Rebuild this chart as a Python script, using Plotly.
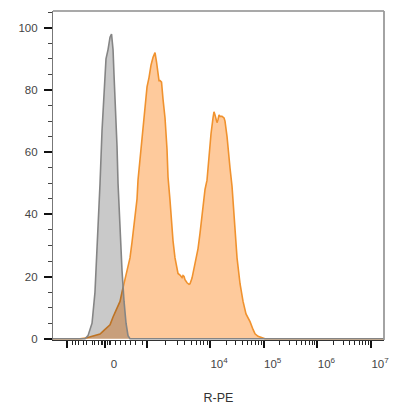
import plotly.graph_objects as go

# x positions are in display units of the biexponential R-PE scale
# (value n corresponds to 10^n for n >= 4)
control_x = [1.076, 1.672, 1.728, 1.803, 1.858, 1.914, 1.952, 1.989, 2.026, 2.063, 2.101, 2.138,
             2.166, 2.194, 2.212, 2.250, 2.268, 2.287, 2.324, 2.361, 2.399, 2.436, 2.473, 2.510, 7.24]
control_y = [0, 0, 1, 5, 15, 35, 50, 67, 80, 90, 93, 97,
             98, 93, 85, 72, 62, 50, 35, 22, 12, 5, 1, 0, 0]

stained_x = [1.076, 1.579, 1.709, 1.858, 1.952, 2.045, 2.138, 2.194, 2.268, 2.324, 2.361, 2.417,
             2.454, 2.510, 2.547, 2.585, 2.641, 2.659, 2.696, 2.734, 2.771, 2.790, 2.808, 2.827,
             2.864, 2.901, 2.939, 2.976, 3.004, 3.032, 3.050, 3.069, 3.097, 3.125, 3.162, 3.199,
             3.218, 3.255, 3.292, 3.311, 3.348, 3.404, 3.441, 3.479, 3.497, 3.516, 3.534, 3.572,
             3.609, 3.628, 3.665, 3.683, 3.721, 3.777, 3.814, 3.870, 3.907, 3.944, 3.963, 4.000,
             4.019, 4.056, 4.074, 4.093, 4.112, 4.130, 4.149, 4.168, 4.186, 4.223, 4.261, 4.279,
             4.317, 4.335, 4.372, 4.410, 4.447, 4.466, 4.503, 4.559, 4.615, 4.670, 4.745, 4.801,
             4.838, 4.894, 4.968, 5.024, 7.24]
stained_y = [0, 0, 0.3, 1, 1.5, 3, 4.5, 7, 10, 12, 15, 19,
             22, 26, 31, 37, 45, 51, 58, 65, 71, 75, 79, 81,
             84, 88, 90.5, 92, 89, 86, 83, 83, 82.5, 77, 71, 61,
             52, 44.5, 35, 31.5, 26, 21, 20.5, 19.7, 20.3, 20, 19, 18,
             17.5, 17.7, 19.5, 21, 24, 29, 34, 42, 48, 51, 55, 62,
             66, 71, 73, 72, 70, 69.5, 70.5, 72, 71.5, 71.5, 71, 70,
             65, 61, 55, 49, 39, 34, 26, 17.7, 12, 8, 5.5, 3,
             1.6, 0.8, 0.2, 0, 0]

x_label_ticks = [2.045, 4, 5, 6, 7]
x_labels = ["0", "10<sup>4</sup>", "10<sup>5</sup>", "10<sup>6</sup>", "10<sup>7</sup>"]
x_unlabelled_major = [1.337, 2.827]
x_minor_ticks = [1.430, 1.486, 1.542, 1.635, 1.709, 1.803, 1.858, 1.914,
                 1.970, 2.007, 2.082, 2.119,
                 2.138, 2.231, 2.324, 2.417, 2.510, 2.603, 2.734,
                 3.180, 3.387, 3.533, 3.647, 3.740, 3.818, 3.886, 3.946,
                 4.301, 4.477, 4.602, 4.699, 4.778, 4.845, 4.903, 4.954,
                 5.301, 5.477, 5.602, 5.699, 5.778, 5.845, 5.903, 5.954,
                 6.301, 6.477, 6.602, 6.699, 6.778, 6.845, 6.903, 6.954]
y_ticks = [0, 20, 40, 60, 80, 100]

fig = go.Figure()
fig.add_trace(go.Scatter(x=stained_x, y=stained_y, mode="lines", fill="tozeroy",
                         fillcolor="#FECA9C", line=dict(color="#F0922E", width=1.6),
                         hoverinfo="skip"))
fig.add_trace(go.Scatter(x=control_x, y=control_y, mode="lines", fill="tozeroy",
                         fillcolor="rgba(0,0,0,0.21)", line=dict(color="#858585", width=1.6),
                         hoverinfo="skip"))

font = "Liberation Sans, Arial, sans-serif"
xrange = [1.076, 7.24]
fig.update_layout(
    template="none",
    width=392, height=409,
    margin=dict(l=45, r=16, t=3, b=77, pad=0),
    paper_bgcolor="white", plot_bgcolor="white",
    showlegend=False,
    font=dict(family=font, color="#333333"),
    xaxis=dict(range=xrange, showgrid=False, zeroline=False,
               showline=True, linecolor="#333333", linewidth=1.2,
               tickmode="array", tickvals=x_label_ticks, ticktext=x_labels,
               ticks="outside", ticklen=7, tickwidth=2, tickcolor="#111111",
               ticklabelshift=9, ticklabelstandoff=6,
               tickfont=dict(family=font, size=11.5, color="#444444"),
               minor=dict(tickmode="array", tickvals=x_minor_ticks, ticks="outside",
                          ticklen=4, tickwidth=1, tickcolor="#222222", showgrid=False),
               title=dict(text="R-PE", font=dict(family=font, size=12.5, color="#333333"),
                          standoff=24)),
    xaxis2=dict(range=xrange, overlaying="x", matches="x", side="bottom",
                showgrid=False, zeroline=False, showline=False, showticklabels=False,
                tickmode="array", tickvals=x_unlabelled_major,
                ticks="outside", ticklen=7, tickwidth=2, tickcolor="#111111"),
    yaxis=dict(range=[-0.4, 105.4], showgrid=False, zeroline=False,
               showline=True, linecolor="#777777", linewidth=1.2,
               tickmode="array", tickvals=y_ticks,
               ticks="outside", ticklen=8, tickwidth=2, tickcolor="#111111",
               ticklabelstandoff=4,
               tickfont=dict(family=font, size=11.5, color="#444444"),
               minor=dict(dtick=5, tick0=0, ticks="outside", ticklen=4, tickwidth=1,
                          tickcolor="#444444", showgrid=False)),
)
# invisible trace so the helper axis with the unlabelled major ticks is drawn
fig.add_trace(go.Scatter(x=[xrange[0]], y=[0], xaxis="x2", mode="markers",
                         marker=dict(opacity=0), hoverinfo="skip"))
# top and right frame lines
fig.add_shape(type="line", xref="paper", yref="paper", x0=0, x1=1, y0=1, y1=1,
              line=dict(color="#555555", width=1.2))
fig.add_shape(type="line", xref="paper", yref="paper", x0=1, x1=1, y0=0, y1=1,
              line=dict(color="#9A9A9A", width=1.8))

fig.write_html("out.html")
